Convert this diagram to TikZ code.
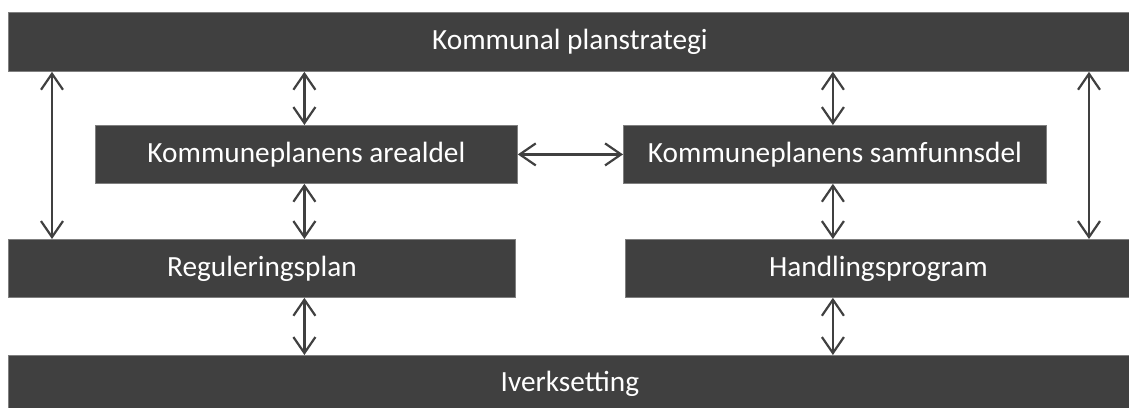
\documentclass[tikz,border=0pt]{standalone}
\usepackage{fontspec}
\setmainfont{Carlito}
\usetikzlibrary{arrows.meta}
\definecolor{boxfill}{HTML}{404040}
\definecolor{boxline}{HTML}{7F7F7F}
\begin{document}
\begin{tikzpicture}[x=1pt,y=-1pt,
  bar/.style={draw=boxline, line width=0.8pt, fill=boxfill, text=white,
    font=\fontsize{29.3}{34}\selectfont, inner sep=0pt, anchor=north west},
  dblarrow/.style={draw=boxfill, line width=2.2pt,
    {Straight Barb[length=16pt,width=22pt,line width=2.2pt]}-{Straight Barb[length=16pt,width=22pt,line width=2.2pt]}}
]
\useasboundingbox (0,0) rectangle (1129,407);
\node[bar, minimum width=1123pt, minimum height=59pt] (top) at (8,12) {Kommunal planstrategi};
\node[bar, minimum width=422pt, minimum height=58pt] (areal) at (95,125) {Kommuneplanens arealdel};
\node[bar, minimum width=423pt, minimum height=58pt] (samf) at (623,125) {Kommuneplanens samfunnsdel};
\node[bar, minimum width=507pt, minimum height=58pt] (reg) at (8,239) {Reguleringsplan};
\node[bar, minimum width=506pt, minimum height=58pt] (hand) at (625,239) {Handlingsprogram};
\node[bar, minimum width=1123pt, minimum height=56pt] (iverk) at (8,355) {Iverksetting};

\coordinate (lx) at ([xshift=44pt]reg.north west);
\coordinate (rx) at ([xshift=464pt]hand.north west);
\draw[dblarrow] (lx) -- (lx |- top.south);
\draw[dblarrow] (rx) -- (rx |- top.south);

\draw[dblarrow] ([xshift=-2pt]areal.north) -- ([xshift=-2pt]areal.north |- top.south);
\draw[dblarrow] ([xshift=-2pt]samf.north) -- ([xshift=-2pt]samf.north |- top.south);
\draw[dblarrow] ([xshift=-2pt]areal.south) -- ([xshift=-2pt]areal.south |- reg.north);
\draw[dblarrow] ([xshift=-2pt]samf.south) -- ([xshift=-2pt]samf.south |- hand.north);
\draw[dblarrow] ([xshift=-2pt]areal.south |- reg.south) -- ([xshift=-2pt]areal.south |- iverk.north);
\draw[dblarrow] ([xshift=-2pt]samf.south |- hand.south) -- ([xshift=-2pt]samf.south |- iverk.north);
\draw[dblarrow] (areal.east) -- (samf.west);
\end{tikzpicture}
\end{document}
